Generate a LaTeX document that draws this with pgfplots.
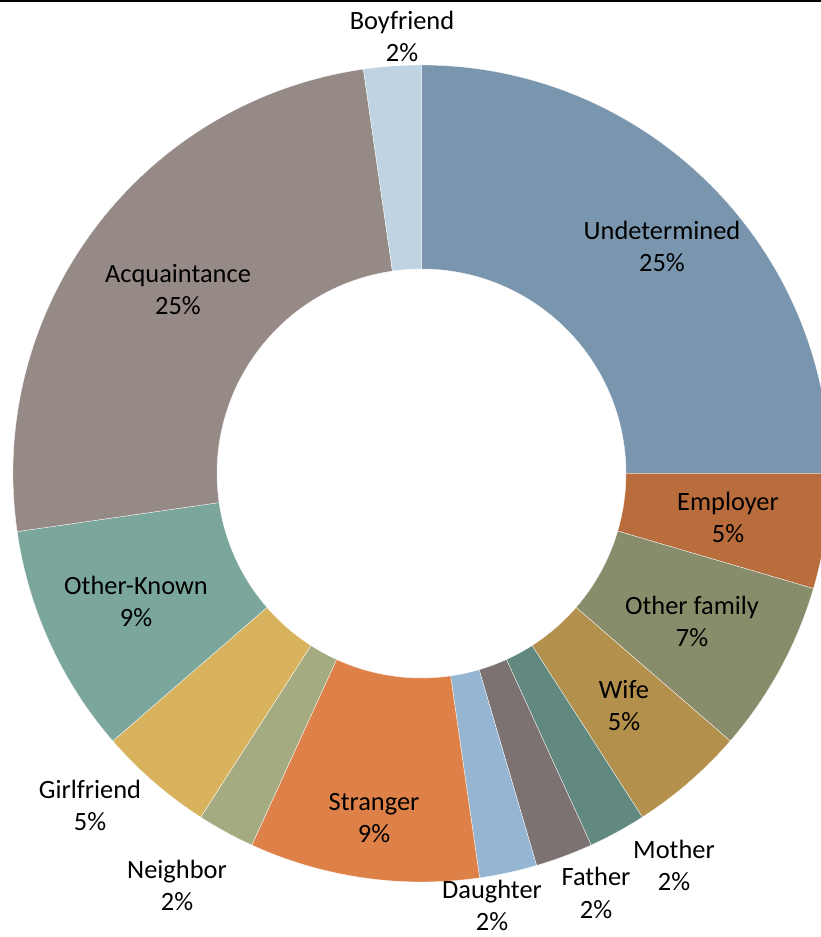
\documentclass[border=0pt]{standalone}
\usepackage{pgfplots}
\usepackage{pgfplotstable}
\pgfplotsset{compat=1.18}
\usepackage{fontspec}
\setmainfont{Carlito}

\definecolor{cUnd}{RGB}{122,150,174}
\definecolor{cEmp}{RGB}{185,108,60}
\definecolor{cOfa}{RGB}{135,140,106}
\definecolor{cWif}{RGB}{179,144,75}
\definecolor{cMot}{RGB}{98,137,127}
\definecolor{cFat}{RGB}{124,114,114}
\definecolor{cDau}{RGB}{149,181,211}
\definecolor{cStr}{RGB}{222,129,73}
\definecolor{cNei}{RGB}{165,171,129}
\definecolor{cGir}{RGB}{216,178,92}
\definecolor{cOkn}{RGB}{122,166,155}
\definecolor{cAcq}{RGB}{150,138,135}
\definecolor{cBoy}{RGB}{192,211,227}

\pgfplotstableread[col sep=comma]{
name,count,color
Undetermined,11,cUnd
Employer,2,cEmp
Other family,3,cOfa
Wife,2,cWif
Mother,1,cMot
Father,1,cFat
Daughter,1,cDau
Stranger,4,cStr
Neighbor,1,cNei
Girlfriend,2,cGir
Other-Known,4,cOkn
Acquaintance,11,cAcq
Boyfriend,1,cBoy
}\data

\newcommand{\lab}[4]{%
  \node[anchor=base,inner sep=0pt,font=\fontsize{26.4}{32}\selectfont] at (axis cs:#1,#2) {#3};
  \node[anchor=base,inner sep=0pt,font=\fontsize{26.4}{32}\selectfont] at (axis cs:#1,#2-32) {#4};
}

\begin{document}%
\begin{tikzpicture}
\pgfplotstablegetrowsof{\data}
\pgfmathtruncatemacro\N{\pgfplotsretval-1}
\def\tot{0}
\pgfplotsforeachungrouped \i in {0,...,\N}{%
  \pgfplotstablegetelem{\i}{count}\of\data
  \pgfmathsetmacro\tot{\tot+\pgfplotsretval}%
}
\def\cum{0}
\begin{axis}[
  x=1pt, y=1pt, disabledatascaling,
  xmin=0, xmax=821, ymin=0, ymax=937,
  hide axis, clip=true,
]
\addplot[draw=none] coordinates {(0,0) (821,937)};
\pgfplotsforeachungrouped \i in {0,...,\N}{%
  \pgfplotstablegetelem{\i}{count}\of\data \let\v\pgfplotsretval
  \pgfplotstablegetelem{\i}{color}\of\data \let\col\pgfplotsretval
  \pgfmathsetmacro\aone{90-360*\cum/\tot}%
  \pgfmathsetmacro\cum{\cum+\v}%
  \pgfmathsetmacro\atwo{90-360*\cum/\tot}%
  \pgfmathsetmacro\xa{421.5+408.5*cos(\aone)}%
  \pgfmathsetmacro\ya{463.5+408.5*sin(\aone)}%
  \pgfmathsetmacro\xb{421.5+204.5*cos(\atwo)}%
  \pgfmathsetmacro\yb{463.5+204.5*sin(\atwo)}%
  \edef\temp{\noexpand\fill[\col, draw=white, line width=0.3pt] (axis cs:\xa,\ya) arc[start angle=\aone,end angle=\atwo,radius=408.5pt] -- (axis cs:\xb,\yb) arc[start angle=\atwo,end angle=\aone,radius=204.5pt] -- cycle;}%
  \temp
}
\addplot[black, line width=2pt] coordinates {(-5,936) (830,936)};
\lab{662}{697}{Undetermined}{25\%}
\lab{728}{426}{Employer}{5\%}
\lab{692}{322}{Other family}{7\%}
\lab{624}{238}{Wife}{5\%}
\lab{674}{78}{Mother}{2\%}
\lab{596}{51}{Father}{2\%}
\lab{492}{38}{Daughter}{2\%}
\lab{374}{126}{Stranger}{9\%}
\lab{177}{58}{Neighbor}{2\%}
\lab{90}{138}{Girlfriend}{5\%}
\lab{136}{342}{Other-Known}{9\%}
\lab{178}{654}{Acquaintance}{25\%}
\lab{402}{907}{Boyfriend}{2\%}
\coordinate (bl) at (axis cs:0,0);
\coordinate (tr) at (axis cs:821,937);
\end{axis}
\pgfresetboundingbox
\useasboundingbox (bl) rectangle (tr);
\end{tikzpicture}%
\end{document}
